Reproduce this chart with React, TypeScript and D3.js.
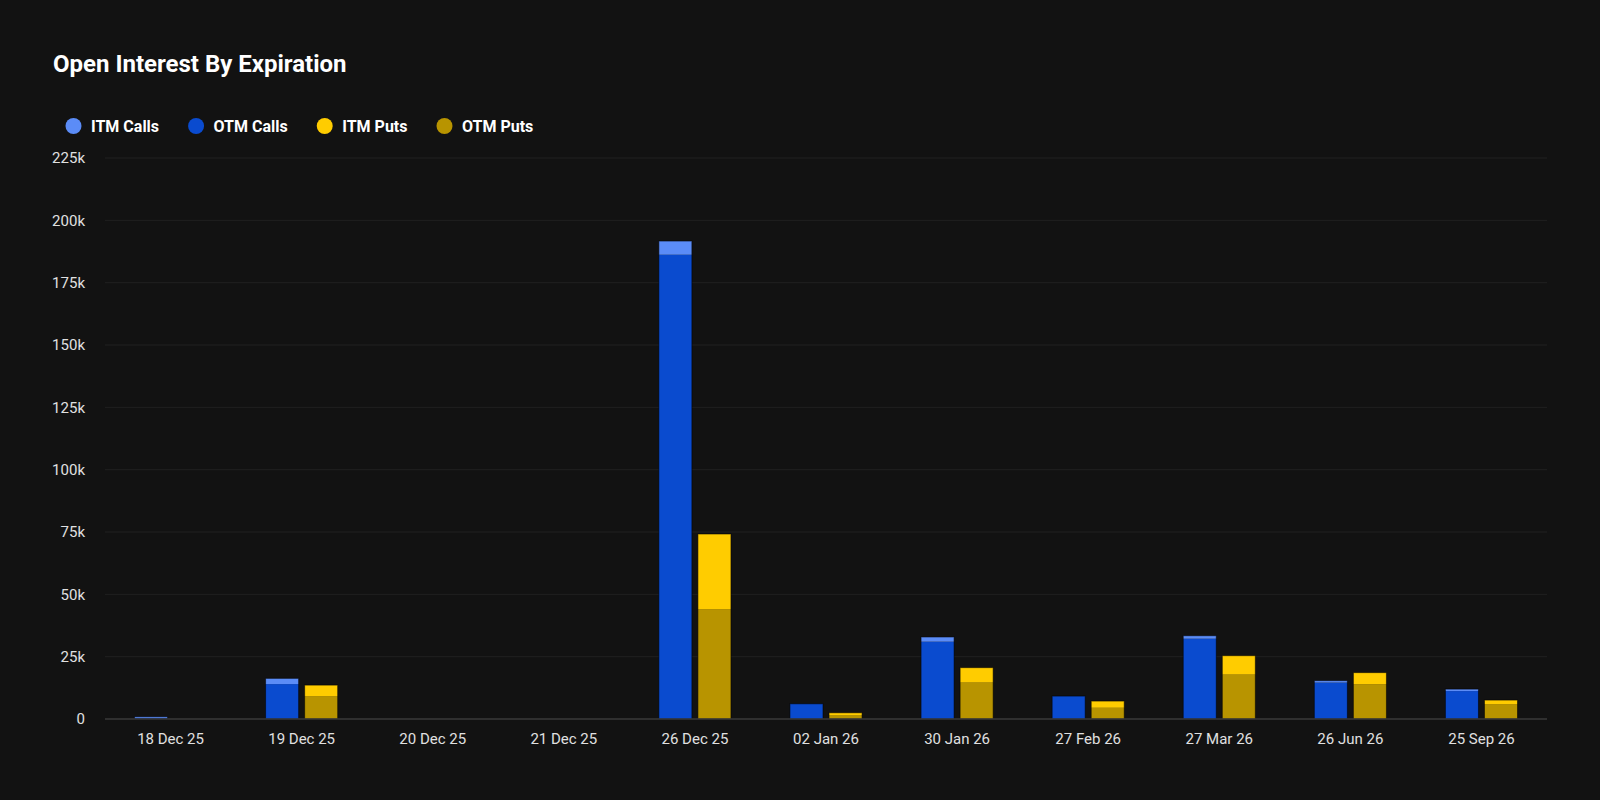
import React, { useEffect, useRef } from 'react';
import * as d3 from 'd3';

// expirations on the x axis
const expirations = [
  '18 Dec 25', '19 Dec 25', '20 Dec 25', '21 Dec 25', '26 Dec 25', '02 Jan 26',
  '30 Jan 26', '27 Feb 26', '27 Mar 26', '26 Jun 26', '25 Sep 26',
];

// open interest per expiration (contracts)
const otmCalls = [300, 14000, 0, 0, 186200, 6100, 31000, 9200, 32200, 14600, 11200];
const itmCalls = [600, 2300, 0, 0, 5500, 0, 1900, 0, 1200, 800, 800];
const otmPuts = [0, 9200, 0, 0, 44100, 1600, 14600, 4500, 17800, 14000, 6000];
const itmPuts = [0, 4400, 0, 0, 30100, 900, 6000, 2700, 7600, 4600, 1600];

const yTicks = [0, 25000, 50000, 75000, 100000, 125000, 150000, 175000, 200000, 225000];

const legendItems = [
  { label: 'ITM Calls', color: '#5b8cf7' },
  { label: 'OTM Calls', color: '#0a4bcf' },
  { label: 'ITM Puts', color: '#ffcc00' },
  { label: 'OTM Puts', color: '#b89400' },
];

const W = 1600;
const H = 800;
const FONT = 'Roboto, "Noto Sans", sans-serif';

const App: React.FC = () => {
  const svgRef = useRef<SVGSVGElement>(null);

  useEffect(() => {
    if (!svgRef.current) return;
    const svg = d3.select(svgRef.current);
    svg.selectAll('*').remove();

    svg.append('rect').attr('width', W).attr('height', H).attr('fill', '#121212');

    const margin = { top: 158, right: 53, bottom: 81, left: 105 };

    const x0 = d3.scaleBand<string>()
      .domain(expirations)
      .range([margin.left, W - margin.right])
      .paddingInner(0.45)
      .paddingOuter(0.225);

    const x1 = d3.scaleBand<string>()
      .domain(['calls', 'puts'])
      .range([0, x0.bandwidth()])
      .paddingInner(0.154);

    const y = d3.scaleLinear()
      .domain([0, 225000])
      .range([H - margin.bottom, margin.top]);

    // title
    svg.append('text')
      .attr('x', 53)
      .attr('y', 72)
      .attr('fill', '#ffffff')
      .attr('font-family', FONT)
      .attr('font-weight', 700)
      .attr('font-size', 24)
      .text('Open Interest By Expiration');

    // legend
    let cx = 73.5;
    legendItems.forEach(item => {
      const g = svg.append('g');
      g.append('circle')
        .attr('cx', cx)
        .attr('cy', 126)
        .attr('r', 8)
        .attr('fill', item.color);
      const t = g.append('text')
        .attr('x', cx + 17.5)
        .attr('y', 131.7)
        .attr('fill', '#ffffff')
        .attr('font-family', FONT)
        .attr('font-weight', 700)
        .attr('font-size', 16)
        .text(item.label);
      const len = (t.node() as SVGTextElement).getComputedTextLength();
      cx = cx + 17.5 + len + 37;
    });

    // grid
    svg.append('g')
      .selectAll('line')
      .data(yTicks.filter(d => d > 0))
      .enter()
      .append('line')
      .attr('x1', margin.left)
      .attr('x2', W - margin.right)
      .attr('y1', d => y(d))
      .attr('y2', d => y(d))
      .attr('stroke', '#202020')
      .attr('stroke-width', 1);

    // y labels
    svg.append('g')
      .selectAll('text')
      .data(yTicks)
      .enter()
      .append('text')
      .attr('x', 85)
      .attr('y', d => y(d))
      .attr('dy', '0.35em')
      .attr('text-anchor', 'end')
      .attr('fill', '#e0e0e0')
      .attr('font-family', FONT)
      .attr('font-size', 15)
      .text(d => (d === 0 ? '0' : `${d / 1000}k`));

    // stacked bars
    const rows = expirations.map((e, i) => ({
      e,
      calls: [
        { v0: 0, v1: otmCalls[i], color: legendItems[1].color },
        { v0: otmCalls[i], v1: otmCalls[i] + itmCalls[i], color: legendItems[0].color },
      ],
      puts: [
        { v0: 0, v1: otmPuts[i], color: legendItems[3].color },
        { v0: otmPuts[i], v1: otmPuts[i] + itmPuts[i], color: legendItems[2].color },
      ],
    }));

    const bars = svg.append('g');
    rows.forEach(r => {
      (['calls', 'puts'] as const).forEach(side => {
        const bx = (x0(r.e) || 0) + (x1(side) || 0);
        const segs = r[side];
        const total = segs[1].v1;
        if (total <= 0) return;
        segs.forEach(s => {
          if (s.v1 - s.v0 <= 0) return;
          bars.append('rect')
            .attr('x', bx)
            .attr('width', x1.bandwidth())
            .attr('y', y(s.v1))
            .attr('height', y(s.v0) - y(s.v1))
            .attr('fill', s.color);
        });
        // thin dark outline round the whole stack
        bars.append('rect')
          .attr('x', bx)
          .attr('width', x1.bandwidth())
          .attr('y', y(total))
          .attr('height', y(0) - y(total))
          .attr('fill', 'none')
          .attr('stroke', 'rgba(0,0,0,0.55)')
          .attr('stroke-width', 1);
      });
    });

    // baseline
    svg.append('line')
      .attr('x1', margin.left)
      .attr('x2', W - margin.right)
      .attr('y1', y(0))
      .attr('y2', y(0))
      .attr('stroke', '#3a3a3a')
      .attr('stroke-width', 1.5);

    // x labels
    svg.append('g')
      .selectAll('text')
      .data(expirations)
      .enter()
      .append('text')
      .attr('x', d => (x0(d) || 0) + x0.bandwidth() / 2)
      .attr('y', 744)
      .attr('text-anchor', 'middle')
      .attr('fill', '#e0e0e0')
      .attr('font-family', FONT)
      .attr('font-size', 15)
      .text(d => d);
  }, []);

  return (
    <svg
      ref={svgRef}
      width={W}
      height={H}
      style={{ position: 'fixed', left: 0, top: 0, display: 'block' }}
    />
  );
};

export default App;
